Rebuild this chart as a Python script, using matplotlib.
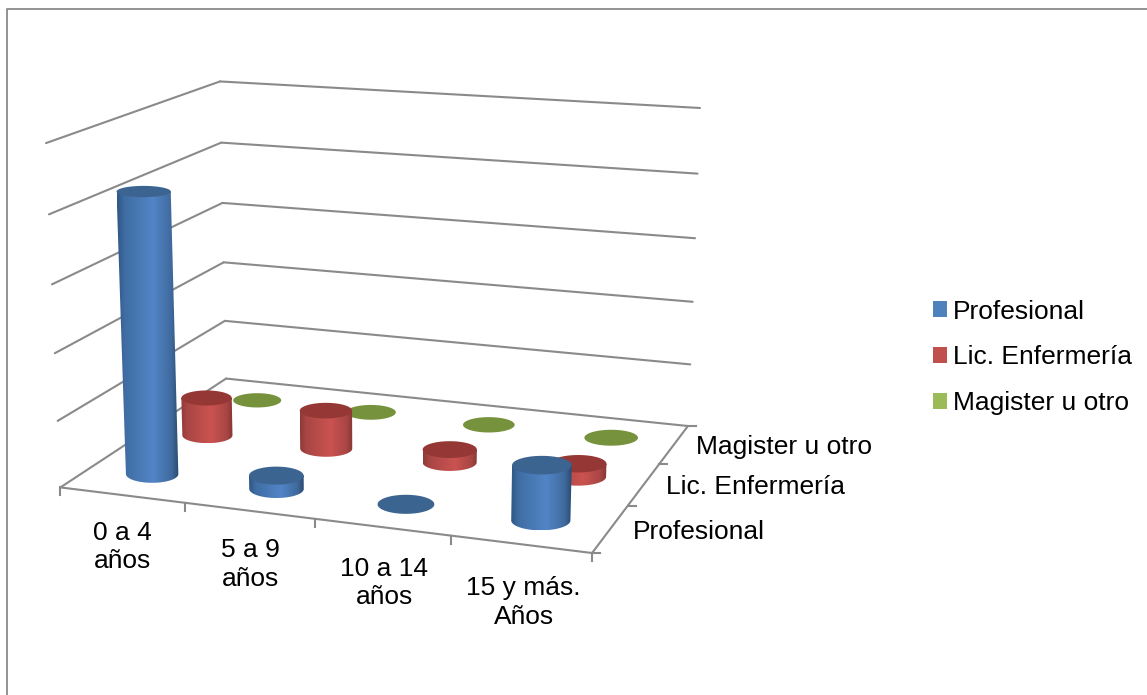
#! /usr/bin/python

import numpy as np
import matplotlib
matplotlib.use('Agg')
import matplotlib.pyplot as plt
from matplotlib.colors import LinearSegmentedColormap
from matplotlib.patches import Patch, Polygon

plt.rcParams['font.family'] = ['Liberation Sans', 'DejaVu Sans']

categories = ['0 a 4\naños', '5 a 9\naños', '10 a 14\naños', '15 y más.\nAños']
series_names = ['Profesional', 'Lic. Enfermería', 'Magister u otro']
profesional = [42, 2, 0, 8]
lic_enfermeria = [6, 6, 2, 2]
magister = [0, 0, 0, 0]
z_ticks = [0, 10, 20, 30, 40, 50]

legend_colors = ['#4f81bd', '#c0504d', '#9bbb59']
top_colors = ['#3c6491', '#953735', '#76923c']
body_stops = [0, 0.12, 0.58, 0.88, 1]
body_colors = [('#2f5684', '#3f6da3', '#5285c6', '#3f6a9e', '#2a4a70'),
               ('#8e3b39', '#a94644', '#ca5350', '#a94644', '#843634'),
               ('#76923c', '#8aa64e', '#9bbb59', '#8aa64e', '#6b8636')]
GRID = '#8a8a8a'

# camera for the box: (category, series, value) -> pixel, fitted on the corners
box_xyz = [(0, 0, 0), (4, 0, 0), (4, 3, 0), (0, 3, 0), (0, 3, 50), (4, 3, 50), (0, 0, 50)]
box_px = [(60.5, 487.5), (592, 553), (688, 426), (226, 378.5), (220, 81.5), (700, 108), (46, 143)]
rows = []
rhs = []
for (X, Y, Z), (u, v) in zip(box_xyz, box_px):
    rows.append([X, Y, Z, 1, 0, 0, 0, 0, -u*X, -u*Y, -u*Z])
    rows.append([0, 0, 0, 0, X, Y, Z, 1, -v*X, -v*Y, -v*Z])
    rhs += [u, v]
P = np.linalg.lstsq(np.array(rows, float), np.array(rhs, float), rcond=None)[0]
P = np.append(P, 1).reshape(3, 4)


def project(x, y, z):
    p = P @ np.array([x, y, z, 1.0])
    return p[0]/p[2], p[1]/p[2]


def line3d(ax, a, b, lw=1.5):
    pa, pb = project(*a), project(*b)
    ax.plot([pa[0], pb[0]], [pa[1], pb[1]], color=GRID, lw=lw, solid_capstyle='round', zorder=1)


def ellipse(x, y, z, r=0.215):
    cx, cy = project(x, y, z)
    w = abs(project(x+r, y, z)[0]-project(x-r, y, z)[0])/2
    h = abs(project(x, y+r, z)[1]-project(x, y-r, z)[1])/2
    return cx, cy, w, h


def cylinder(ax, x, y, value, s, order):
    t = np.linspace(0, 2*np.pi, 90)
    cx, cy, w, h = ellipse(x, y, value)
    top = np.column_stack([cx+w*np.cos(t), cy+h*np.sin(t)])
    if value > 0:
        bx, by, bw, bh = ellipse(x, y, 0)
        arc = np.linspace(0, np.pi, 45)
        lower = np.column_stack([bx+bw*np.cos(arc), by+bh*np.sin(arc)])
        outline = np.vstack([[[cx+w, cy]], lower, [[cx-w, cy]]])
        cmap = LinearSegmentedColormap.from_list('body', list(zip(body_stops, body_colors[s])))
        ramp = cmap(np.linspace(0, 1, 256))[None, :, :]
        im = ax.imshow(ramp, extent=[outline[:, 0].min(), outline[:, 0].max(),
                                     outline[:, 1].max(), cy-h], aspect='auto', zorder=order)
        clip = Polygon(np.vstack([outline, top[:45]]), closed=True, transform=ax.transData)
        im.set_clip_path(clip)
    ax.add_patch(Polygon(top, closed=True, fc=top_colors[s], ec='none', zorder=order+0.1))


fig = plt.figure(figsize=(11.47, 6.95), dpi=100)
ax = fig.add_axes([0, 0, 1, 1])

# chart frame, open on the right and at the bottom
ax.plot([7.3, 7.3, 1147], [695, 9.3, 9.3], color=GRID, lw=1.3, zorder=1)

# walls
for z in z_ticks:
    line3d(ax, (0, 0, z), (0, 3, z))
    line3d(ax, (0, 3, z), (4, 3, z))

# floor edges and ticks
line3d(ax, (0, 0, 0), (4, 0, 0))
line3d(ax, (4, 0, 0), (4, 3, 0))
for i in range(5):
    px, py = project(i, 0, 0)
    ax.plot([px, px], [py, py+8], color=GRID, lw=1.5, zorder=1)
for j in range(4):
    px, py = project(4, j, 0)
    ax.plot([px, px+8], [py, py], color=GRID, lw=1.5, zorder=1)

# cylinders, back row first
values = [profesional, lic_enfermeria, magister]
order = 2
for s in [2, 1, 0]:
    for i in range(len(categories)):
        cylinder(ax, i+0.5, s+0.5, values[s][i], s, order)
        order += 1

for i, label in enumerate(categories):
    px, py = project(i+0.5, 0, 0)
    ax.text(px+i, py+52+2*i, label, ha='center', va='center', fontsize=19, linespacing=1.25, color='black')
for s, label in enumerate(series_names):
    px, py = project(4, s+0.5, 0)
    ax.text(px+22, py+3, label, ha='left', va='center', fontsize=19, color='black')

handles = [Patch(fc=c, ec='none', label=n) for c, n in zip(legend_colors, series_names)]
ax.legend(handles=handles, loc='center left', bbox_to_anchor=(933, 357.5), bbox_transform=ax.transData,
          frameon=False, fontsize=19, handlelength=0.53, handleheight=0.53,
          handletextpad=0.24, labelspacing=0.83, borderpad=0, borderaxespad=0)

ax.set_xlim(0, 1147)
ax.set_ylim(695, 0)
ax.axis('off')

plt.savefig('out.png', dpi=100)
